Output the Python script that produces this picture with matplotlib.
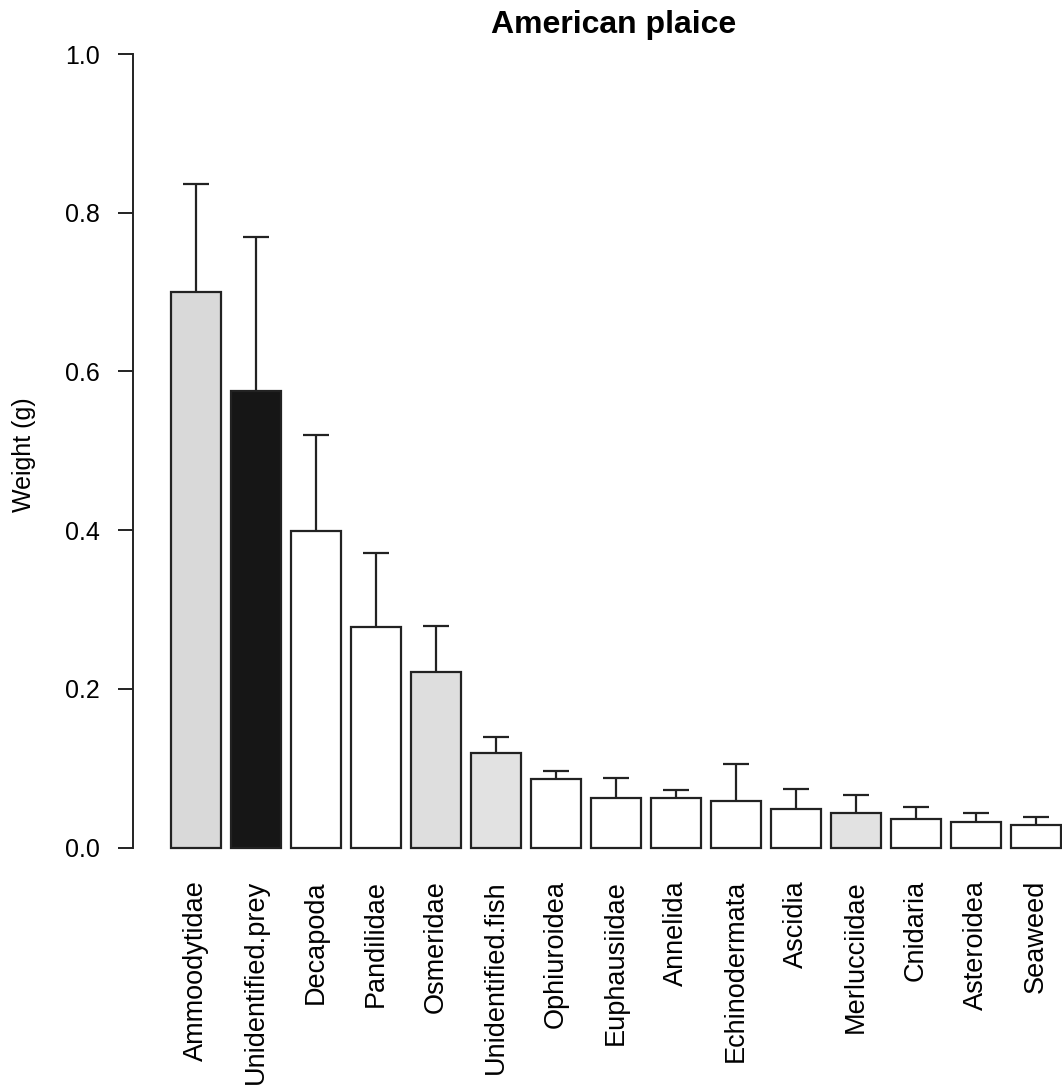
import matplotlib
matplotlib.use("Agg")
import matplotlib.pyplot as plt
import numpy as np

categories = ["Ammoodytidae", "Unidentified.prey", "Decapoda", "Pandilidae", "Osmeridae",
              "Unidentified.fish", "Ophiuroidea", "Euphausiidae", "Annelida", "Echinodermata",
              "Ascidia", "Merlucciidae", "Cnidaria", "Asteroidea", "Seaweed"]
means = [0.700, 0.575, 0.399, 0.278, 0.221, 0.119, 0.086, 0.063, 0.063, 0.059,
         0.049, 0.044, 0.036, 0.032, 0.028]
upper = [0.836, 0.770, 0.520, 0.371, 0.279, 0.139, 0.096, 0.088, 0.073, 0.105,
         0.074, 0.066, 0.051, 0.043, 0.039]
fills = ["#d9d9d9", "#161616", "white", "white", "#dedede", "#e2e2e2", "white", "white",
         "white", "white", "white", "#e2e2e2", "white", "white", "white"]
yticks = [0.0, 0.2, 0.4, 0.6, 0.8, 1.0]
yticklabels = ["0.0", "0.2", "0.4", "0.6", "0.8", "1.0"]

plt.rcParams['font.family'] = ['Liberation Sans', 'DejaVu Sans']

W, H = 1062, 1089
fig = plt.figure(figsize=(W / 100, H / 100), dpi=100)
left_px, right_px, bot_px, top_px = 133, 1062, 847.5, 54
ax = fig.add_axes([left_px / W, 1 - bot_px / H, (right_px - left_px) / W, (bot_px - top_px) / H])

x = np.arange(len(categories))
err_up = np.array(upper) - np.array(means)
eb = ax.errorbar(x, means, yerr=[np.zeros(len(x)), err_up], fmt='none', ecolor='#222222',
                 elinewidth=1.6, capsize=9.7, capthick=1.6, zorder=1, clip_on=False)
eb[1][0].set_visible(False)
ax.bar(x, means, width=0.833, color=fills, edgecolor='#222222', linewidth=1.6, zorder=2,
       clip_on=False)

ax.set_xlim(-1.05, 14.44)
ax.set_ylim(0, 1.0)
for s in ['top', 'right', 'bottom']:
    ax.spines[s].set_visible(False)
ax.spines['left'].set_bounds(0, 1)
ax.spines['left'].set_linewidth(1.4)
ax.spines['left'].set_color('#222222')

ax.set_yticks(yticks)
ax.set_yticklabels(yticklabels, fontsize=18)
ax.tick_params(axis='y', length=10.8, width=1.4, pad=13, color='#222222')
ax.set_xticks(x)
ax.set_xticklabels(categories, rotation=90, fontsize=19.5, va='top', ha='center')
ax.tick_params(axis='x', length=0, pad=23.4)

fig.text(24 / W, 1 - 455 / H, "Weight (g)", rotation=90, ha='center', va='center', fontsize=18)
fig.text(614 / W, 1 - 33 / H, "American plaice", ha='center', va='baseline', fontsize=23,
         fontweight='bold')

fig.savefig("out.png", dpi=100)
